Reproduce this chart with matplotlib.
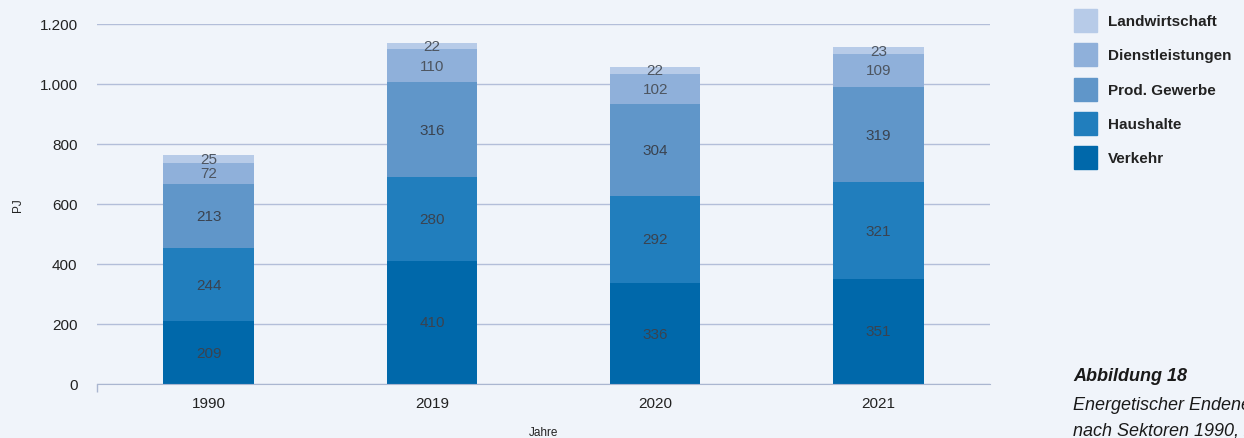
import numpy as np
import matplotlib.pyplot as plt
from matplotlib.patches import Rectangle

plt.rcParams['font.family'] = ['Liberation Sans', 'DejaVu Sans']

jahre = ['1990', '2019', '2020', '2021']
sektoren = ['Verkehr', 'Haushalte', 'Prod. Gewerbe', 'Dienstleistungen', 'Landwirtschaft']
verkehr = [209, 410, 336, 351]
haushalte = [244, 280, 292, 321]
prod_gewerbe = [213, 316, 304, 319]
dienstleistungen = [72, 110, 102, 109]
landwirtschaft = [25, 22, 22, 23]
werte = [verkehr, haushalte, prod_gewerbe, dienstleistungen, landwirtschaft]
farben = ['#0068aa', '#217ebd', '#6096c9', '#8fb0da', '#b7cbe8']

bg = '#f0f4fa'
fig = plt.figure(figsize=(12.44, 4.39), dpi=100, facecolor=bg)
ax = fig.add_axes([97/1244, 1 - 385/439, (990-97)/1244, 360/439])
ax.set_facecolor(bg)

x = np.arange(len(jahre))
bottom = np.zeros(len(jahre))
for name, vals, c in zip(sektoren, werte, farben):
    vals = np.array(vals)
    ax.bar(x, vals, 0.405, bottom=bottom, color=c, edgecolor='none', zorder=3)
    for xi, b, v in zip(x, bottom, vals):
        col = '#3a4350' if name in ('Verkehr', 'Haushalte', 'Prod. Gewerbe') else '#4d5560'
        ax.text(xi, b + v / 2, str(v), ha='center', va='center', fontsize=11,
                color=col, zorder=4)
    bottom += vals

ax.set_xlim(-0.5, 3.5)
ax.set_ylim(0, 1200)
ax.set_yticks(range(0, 1201, 200))
ax.set_yticklabels(['0', '200', '400', '600', '800', '1.000', '1.200'])
ax.set_xticks(x)
ax.set_xticklabels(jahre)
ax.set_xticks([-0.5], minor=True)
ax.tick_params(axis='x', which='minor', length=6, color='#aab6d0', width=1)
ax.tick_params(axis='both', which='major', length=0, labelsize=11, colors='#222222')
ax.tick_params(axis='y', pad=14)
ax.tick_params(axis='x', pad=9)
ax.grid(axis='y', color='#b3bed9', linewidth=1, zorder=0)
for s in ['top', 'right', 'left']:
    ax.spines[s].set_visible(False)
ax.spines['bottom'].set_color('#aab6d0')
ax.spines['bottom'].set_zorder(5)
ax.set_ylabel('PJ', fontsize=8.5, color='#222222', labelpad=11)
ax.set_xlabel('Jahre', fontsize=8.5, color='#222222', labelpad=11)

# Legende
for i, (name, c) in enumerate(zip(sektoren[::-1], farben[::-1])):
    yc = 22 + i * 34.3
    fig.patches.append(Rectangle((1074/1244, 1 - (yc + 11)/439), 23/1244, 23/439,
                                 transform=fig.transFigure, color=c))
    fig.text(1108/1244, 1 - yc/439, name, fontsize=11, fontweight='bold',
             color='#222222', va='center', ha='left')

fig.text(1073/1244, 1 - 377/439, 'Abbildung 18', fontsize=13, fontweight='bold',
         fontstyle='italic', color='#1a1a1a', va='center')
fig.text(1073/1244, 1 - 406/439, 'Energetischer Endenergieverbrauch', fontsize=13,
         fontstyle='italic', color='#1a1a1a', va='center')
fig.text(1073/1244, 1 - 431/439, 'nach Sektoren 1990, 2019 bis 2021', fontsize=13,
         fontstyle='italic', color='#1a1a1a', va='center')

fig.savefig('out.png', dpi=100, facecolor=bg)
